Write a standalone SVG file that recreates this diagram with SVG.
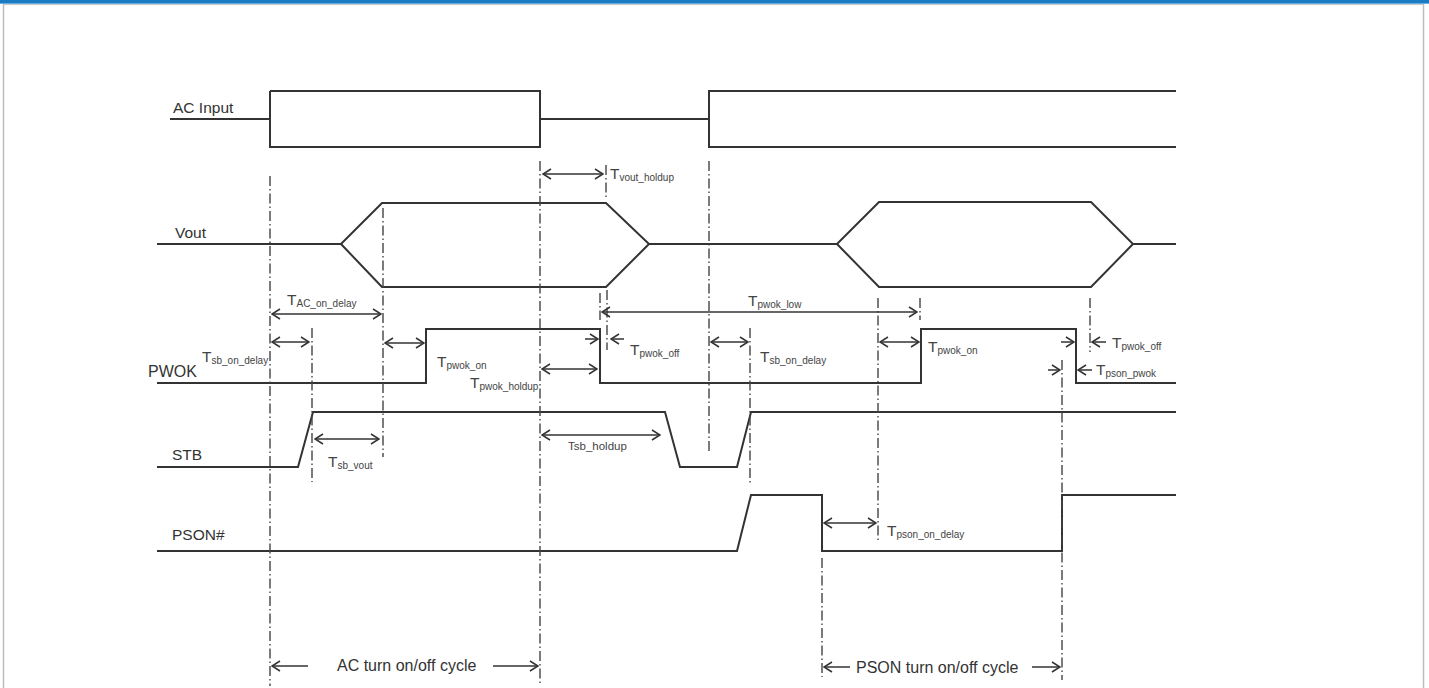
<svg xmlns="http://www.w3.org/2000/svg" width="1429" height="688" viewBox="0 0 1429 688">
<defs>
<style>
.w{fill:none;stroke:#333;stroke-width:2}
.d{fill:none;stroke:#444;stroke-width:1.4;stroke-dasharray:10 3 1.5 3}
.a{fill:none;stroke:#333;stroke-width:1.5;marker-start:url(#h);marker-end:url(#h)}
.s{fill:none;stroke:#333;stroke-width:1.5;marker-end:url(#h)}
.lbl{font-family:"Liberation Sans",Arial,sans-serif;font-size:15.5px;fill:#333}
.t{font-family:"Liberation Sans",Arial,sans-serif;font-size:15.5px;fill:#444}
.sub{font-size:10px}
.sm{font-family:"Liberation Sans",Arial,sans-serif;font-size:11.5px;fill:#444}
</style>
<marker id="h" viewBox="0 0 10 12" refX="9" refY="6" markerWidth="10" markerHeight="12" markerUnits="userSpaceOnUse" orient="auto-start-reverse"><path d="M1,1 L9,6 L1,11" fill="none" stroke="#333" stroke-width="1.5"/></marker>
</defs>
<rect x="0" y="0" width="1429" height="688" fill="#fff"/>
<g id="frame">
<rect x="0" y="0" width="1429" height="3" fill="#1a7cc5"/>
<rect x="0" y="3" width="1429" height="1" fill="#6aaede"/>
<line x1="3" y1="4.5" x2="1424" y2="4.5" stroke="#c8c8c8" stroke-width="1"/>
<line x1="3.5" y1="4" x2="3.5" y2="688" stroke="#bdbdbd" stroke-width="1.5"/>
<line x1="1423.5" y1="4" x2="1423.5" y2="688" stroke="#bdbdbd" stroke-width="1.5"/>
</g>
<g id="ac-input">
<text class="lbl" x="173" y="113">AC Input</text>
<path class="w" d="M170,119 H270 M270,91 V147 H540 V91 H270 M540,119 H709 M1176,91 H709 V147 H1176"/>
</g>
<g id="vout">
<text class="lbl" x="175" y="238">Vout</text>
<path class="w" d="M157,244 H341 L382,203 H606 L649,244 L606,287 H382 L341,244 M649,244 H837 L879,202 H1091 L1133,244 L1091,287 H879 L837,244 M1133,244 H1176"/>
</g>
<g id="pwok">
<text class="lbl" x="148" y="377" style="font-size:16px">PWOK</text>
<path class="w" d="M157,383 H426 V329 H600 V383 H921 V329 H1076 V383 H1176"/>
</g>
<g id="stb">
<text class="lbl" x="172" y="460">STB</text>
<path class="w" d="M157,467 H298 L313,412 H665 L680,467 H737 L751,412 H1176"/>
</g>
<g id="pson">
<text class="lbl" x="172" y="540">PSON#</text>
<path class="w" d="M157,551 H737 L751,495 H822 V551 H1062 V495 H1176"/>
</g>
<g id="markers-lines">
<line class="d" x1="270" y1="176" x2="270" y2="686"/>
<line class="d" x1="540" y1="161" x2="540" y2="686"/>
<line class="d" x1="709" y1="161" x2="709" y2="452"/>
<line class="d" x1="606" y1="165" x2="606" y2="198"/>
<line class="d" x1="607" y1="290" x2="607" y2="350"/>
<line class="d" x1="600" y1="293" x2="600" y2="320"/>
<line class="d" x1="383" y1="208" x2="383" y2="457"/>
<line class="d" x1="312" y1="328" x2="312" y2="482"/>
<line class="d" x1="750" y1="328" x2="750" y2="485"/>
<line class="d" x1="878" y1="298" x2="878" y2="540"/>
<line class="d" x1="920" y1="298" x2="920" y2="320"/>
<line class="d" x1="1090" y1="298" x2="1090" y2="352"/>
<line class="d" x1="1062" y1="360" x2="1062" y2="680"/>
<line class="d" x1="822" y1="558" x2="822" y2="677"/>
</g>
<g id="connectors">
<path class="a" d="M543,174 H603"/>
<path class="a" d="M272,314 H381"/>
<path class="a" d="M272,342 H309"/>
<path class="a" d="M385,343 H424"/>
<path class="a" d="M542,369 H597"/>
<path class="a" d="M542,435 H660"/>
<path class="a" d="M315,439 H379"/>
<path class="a" d="M602,312 H917"/>
<path class="a" d="M711,342 H748"/>
<path class="a" d="M880,342 H919"/>
<path class="a" d="M824,523 H876"/>
<path class="s" d="M308,666 H272"/>
<path class="s" d="M493,666 H538"/>
<path class="s" d="M850,667 H824"/>
<path class="s" d="M1032,667 H1060"/>
<path class="s" d="M585,339 H598"/>
<path class="s" d="M624,339 H611"/>
<path class="s" d="M1061,342 H1074"/>
<path class="s" d="M1106,342 H1092"/>
<path class="s" d="M1048,370 H1060"/>
<path class="s" d="M1092,370 H1078"/>
</g>
<g id="labels">
<text class="t" x="610" y="179">T<tspan class="sub" dy="2">vout_holdup</tspan></text>
<text class="t" x="287" y="305">T<tspan class="sub" dy="2">AC_on_delay</tspan></text>
<text class="t" x="202" y="362">T<tspan class="sub" dy="2">sb_on_delay</tspan></text>
<text class="t" x="437" y="367">T<tspan class="sub" dy="2">pwok_on</tspan></text>
<text class="t" x="470" y="388">T<tspan class="sub" dy="2">pwok_holdup</tspan></text>
<text class="sm" x="568" y="450">Tsb_holdup</text>
<text class="t" x="328" y="467">T<tspan class="sub" dy="2">sb_vout</tspan></text>
<text class="t" x="748" y="306">T<tspan class="sub" dy="2">pwok_low</tspan></text>
<text class="t" x="630" y="355">T<tspan class="sub" dy="2">pwok_off</tspan></text>
<text class="t" x="760" y="362">T<tspan class="sub" dy="2">sb_on_delay</tspan></text>
<text class="t" x="928" y="352">T<tspan class="sub" dy="2">pwok_on</tspan></text>
<text class="t" x="1112" y="348">T<tspan class="sub" dy="2">pwok_off</tspan></text>
<text class="t" x="1096" y="375">T<tspan class="sub" dy="2">pson_pwok</tspan></text>
<text class="t" x="887" y="536">T<tspan class="sub" dy="2">pson_on_delay</tspan></text>
<text class="lbl" x="337" y="671" style="font-size:16px">AC turn on/off cycle</text>
<text class="lbl" x="856" y="673" style="font-size:16px">PSON turn on/off cycle</text>
</g>
</svg>
